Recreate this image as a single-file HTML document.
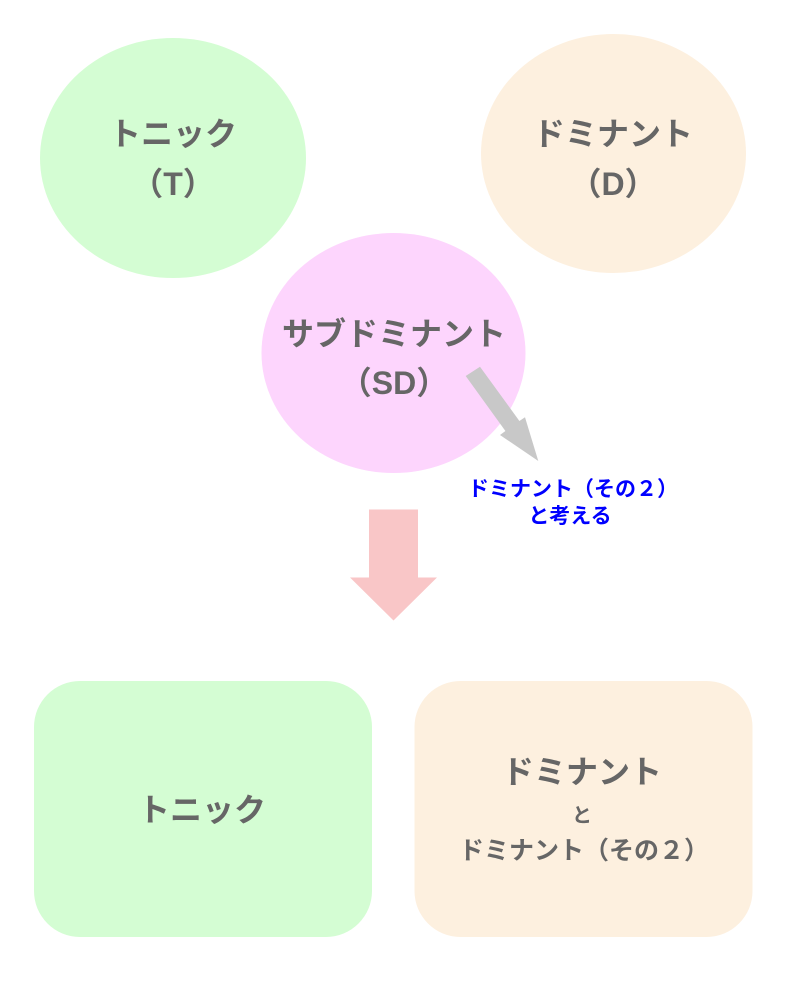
<!DOCTYPE html>
<html>
<head>
<meta charset="utf-8">
<style>
html,body{margin:0;padding:0;background:#fff;}
svg{display:block;}
text{font-family:"Liberation Sans","Noto Sans CJK JP",sans-serif;font-weight:bold;}
</style>
</head>
<body>
<svg width="793" height="1005" viewBox="0 0 793 1005" xmlns="http://www.w3.org/2000/svg">
  <!-- Ellipses -->
  <ellipse cx="173" cy="158" rx="133" ry="120" fill="#d4fdd3"/>
  <ellipse cx="613.5" cy="153.5" rx="132.5" ry="119.5" fill="#fdf0df"/>
  <ellipse cx="393.5" cy="353" rx="132" ry="120" fill="#fdd5fd"/>

  <!-- Ellipse labels -->
  <text x="173" y="145" font-size="32" fill="#666" text-anchor="middle">トニック</text>
  <text x="173" y="195" font-size="32" fill="#666" text-anchor="middle">（T）</text>

  <text x="613" y="145" font-size="32" fill="#666" text-anchor="middle">ドミナント</text>
  <text x="613" y="195" font-size="32" fill="#666" text-anchor="middle">（D）</text>

  <text x="394" y="345" font-size="32" fill="#666" text-anchor="middle">サブドミナント</text>
  <text x="394" y="394" font-size="32" fill="#666" text-anchor="middle">（SD）</text>

  <!-- Gray diagonal arrow -->
  <polygon points="465.7,376 480,366.7 519.4,421 525,417.3 538.3,461 500,435 505.4,431" fill="#c8c8c8"/>

  <!-- Blue annotation -->
  <text x="468" y="496" font-size="21" fill="#0000ff">ドミナント（その２）</text>
  <text x="570" y="523" font-size="21" fill="#0000ff" text-anchor="middle">と考える</text>

  <!-- Pink down arrow -->
  <polygon points="369,509.5 418,509.5 418,577.5 437,577.5 393.5,620.5 350,577.5 369,577.5" fill="#f9c6c7"/>

  <!-- Rounded boxes -->
  <rect x="34" y="681" width="338" height="256" rx="46" ry="46" fill="#d4fdd3"/>
  <rect x="414.5" y="681" width="338" height="256" rx="46" ry="46" fill="#fdf0df"/>

  <text x="202" y="821" font-size="32" fill="#666" text-anchor="middle">トニック</text>

  <text x="582" y="783" font-size="32" fill="#666" text-anchor="middle">ドミナント</text>
  <text x="582" y="822" font-size="20" fill="#666" text-anchor="middle">と</text>
  <text x="459" y="859" font-size="25" fill="#666">ドミナント（その２）</text>
</svg>
</body>
</html>
